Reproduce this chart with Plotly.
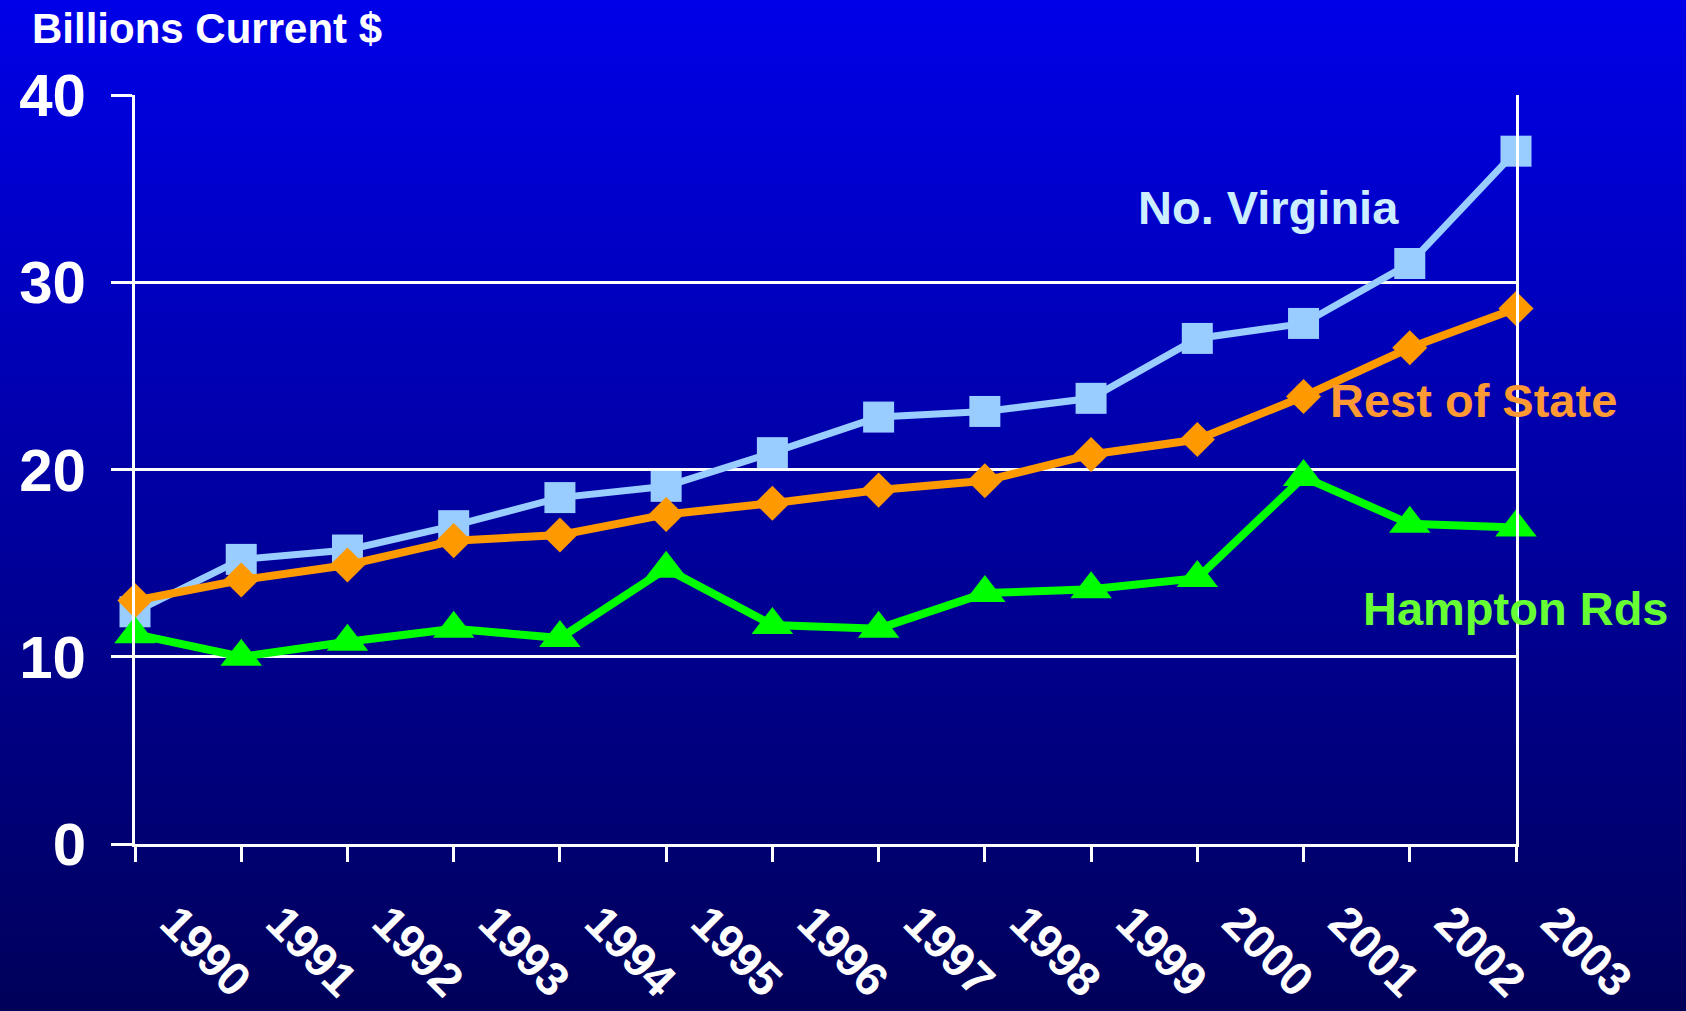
import plotly.graph_objects as go

years = list(range(1990, 2004))
no_virginia = [12.4, 15.2, 15.7, 17.0, 18.5, 19.1, 20.9, 22.8, 23.1, 23.8, 27.0, 27.8, 31.0, 37.0]
rest_of_state = [13.0, 14.1, 14.9, 16.2, 16.5, 17.6, 18.2, 18.9, 19.4, 20.8, 21.6, 23.9, 26.5, 28.6]
hampton_rds = [11.2, 10.0, 10.8, 11.5, 11.0, 14.7, 11.7, 11.5, 13.4, 13.6, 14.2, 19.6, 17.1, 16.9]
year_labels = [str(y) for y in years]
y_ticks = [0, 10, 20, 30, 40]

W, H = 1686, 1011
L, R, T, B = 135, 170, 95, 167
pw, ph = W - L - R, H - T - B

FONT = "Liberation Sans, Arial, sans-serif"

fig = go.Figure()
fig.add_trace(go.Scatter(x=years, y=no_virginia, mode="lines+markers", name="No. Virginia",
                         line=dict(color="#99CCFF", width=7),
                         marker=dict(symbol="square", size=31, color="#99CCFF"),
                         cliponaxis=False))
fig.add_trace(go.Scatter(x=years, y=rest_of_state, mode="lines+markers", name="Rest of State",
                         line=dict(color="#FF9900", width=8),
                         marker=dict(symbol="diamond", size=27, color="#FF9900"),
                         cliponaxis=False))
fig.add_trace(go.Scatter(x=years, y=hampton_rds, mode="lines+markers", name="Hampton Rds",
                         line=dict(color="#00FF00", width=8),
                         marker=dict(symbol="triangle-up", size=36, color="#00FF00"),
                         cliponaxis=False))

svg = ("data:image/svg+xml;utf8,<svg xmlns='http://www.w3.org/2000/svg' width='100' height='100' "
       "viewBox='0 0 100 100' preserveAspectRatio='none'><defs><linearGradient id='g' x1='0' y1='0' x2='0' y2='1'>"
       "<stop offset='0' stop-color='rgb(0,0,234)'/><stop offset='1' stop-color='rgb(0,0,88)'/>"
       "</linearGradient></defs><rect width='100' height='100' fill='url(%23g)'/></svg>")

pad = 10
fig.add_layout_image(dict(source=svg, xref="paper", yref="paper",
                          x=-(L + pad) / pw, y=1 + (T + pad) / ph,
                          sizex=(W + 2 * pad) / pw, sizey=(H + 2 * pad) / ph,
                          sizing="stretch", xanchor="left", yanchor="top", layer="below"))

fig.add_annotation(text="Billions Current $", xref="paper", yref="paper",
                   x=(30 - L) / pw, y=1 + (T - 28) / ph, xanchor="left", yanchor="middle",
                   showarrow=False, font=dict(family=FONT, size=42, color="white", weight="bold"))
fig.add_annotation(text="No. Virginia", x=2000.67, y=33.97, showarrow=False,
                   font=dict(family=FONT, size=47, color="#CCEEFF", weight="bold"))
fig.add_annotation(text="Rest of State", x=2002.6, y=23.7, showarrow=False,
                   font=dict(family=FONT, size=47, color="#FF9933", weight="bold"))
fig.add_annotation(text="Hampton Rds", x=2003.0, y=12.57, showarrow=False,
                   font=dict(family=FONT, size=47, color="#66FF33", weight="bold"))

fig.update_layout(
    width=W, height=H,
    margin=dict(l=L, r=R, t=T, b=B, autoexpand=False),
    paper_bgcolor="rgb(0,0,88)",
    plot_bgcolor="rgba(0,0,0,0)",
    showlegend=False,
    xaxis=dict(range=[1990, 2003], tickmode="array", tickvals=years, ticktext=year_labels,
               automargin=False,
               showgrid=False, zeroline=False, showline=True, linecolor="white", linewidth=3,
               ticks="outside", ticklen=15, tickwidth=2.5, tickcolor="white",
               tickangle=45, ticklabelstandoff=14, ticklabelshift=39,
               tickfont=dict(family=FONT, size=47, color="white", weight="bold")),
    yaxis=dict(range=[0, 40], tickmode="array", tickvals=y_ticks,
               automargin=False,
               showgrid=True, gridcolor="white", gridwidth=2.5, zeroline=False,
               showline=True, mirror=True, linecolor="white", linewidth=3,
               ticks="outside", ticklen=21, tickwidth=2.5, tickcolor="white",
               ticklabelstandoff=13,
               tickfont=dict(family=FONT, size=60, color="white", weight="bold")),
)

fig.write_html("out.html", config={"displayModeBar": False},
               post_script="document.body.style.margin='0';document.body.style.padding='0';"
                           "document.body.style.background='rgb(0,0,88)';")
